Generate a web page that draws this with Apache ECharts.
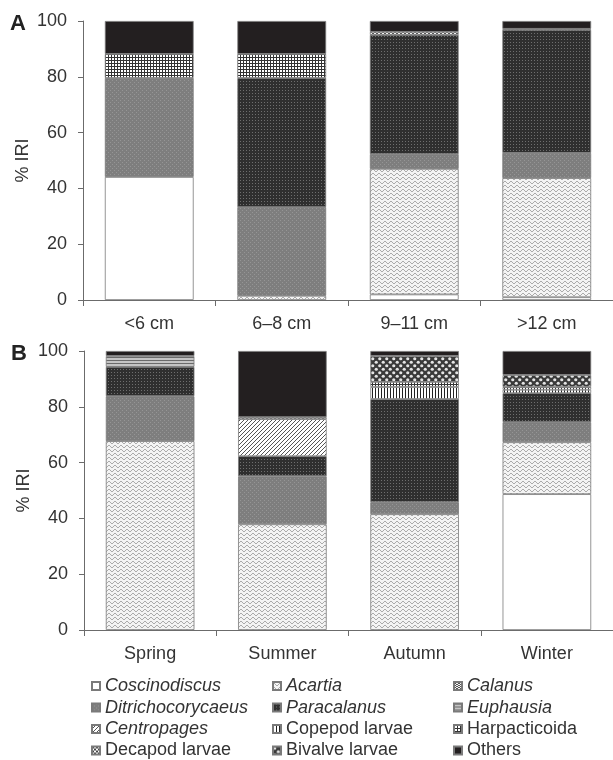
<!DOCTYPE html>
<html>
<head>
<meta charset="utf-8">
<script src="https://cdn.jsdelivr.net/npm/echarts@6/dist/echarts.min.js"></script>
<style>
html,body{margin:0;padding:0;background:#fff;}
#chart{width:613px;height:760px;}
</style>
</head>
<body>
<div id="chart"></div>
<script>
// ---------- DATA ----------
const sizeClasses = ['<6 cm', '6–8 cm', '9–11 cm', '>12 cm'];
const seasons = ['Spring', 'Summer', 'Autumn', 'Winter'];
const yTickValues = [0, 20, 40, 60, 80, 100];

// Panel A (by size class), % IRI of each prey taxon
const coscinodiscusA     = [44.1, 0,    2.0,  1.0];
const acartiaA           = [0,    1.5,  45.0, 42.7];
const ditrichocorycaeusA = [35.5, 31.8, 5.3,  9.0];
const paracalanusA       = [0,    46.3, 42.7, 44.1];
const euphausiaA         = [0,    0,    0,    0];
const centropagesA       = [0,    0,    0,    0];
const copepodLarvaeA     = [0,    0,    0,    0];
const harpacticoidaA     = [8.6,  8.6,  0,    0];
const decapodLarvaeA     = [0,    0,    0,    0];
const bivalveLarvaeA     = [0,    0,    0,    0];
const calanusA           = [0,    0,    1.1,  0.4];
const othersA            = [11.8, 11.8, 3.9,  2.8];

// Panel B (by season)
const coscinodiscusB     = [0,    0,    0,    48.7];
const acartiaB           = [67.7, 37.9, 41.5, 18.6];
const ditrichocorycaeusB = [16.1, 17.2, 4.3,  7.2];
const paracalanusB       = [10.5, 7.2,  37.0, 10.4];
const euphausiaB         = [3.9,  0,    0,    0];
const centropagesB       = [0,    13.3, 0,    0];
const copepodLarvaeB     = [0,    0,    4.3,  1.2];
const harpacticoidaB     = [0,    0,    1.8,  1.0];
const decapodLarvaeB     = [0,    0,    0,    0];
const bivalveLarvaeB     = [0,    0,    9.3,  4.3];
const calanusB           = [0,    0.7,  0,    0];
const othersB            = [1.8,  23.7, 1.8,  8.6];

// ---------- PATTERNS ----------
function tile(w, h, draw) {
  const c = document.createElement('canvas');
  c.width = w; c.height = h;
  const g = c.getContext('2d');
  draw(g, w, h);
  return { image: c, repeat: 'repeat' };
}
const fills = {
  'Coscinodiscus': '#ffffff',
  'Acartia': tile(6, 4, (g) => {
    g.fillStyle = '#f4f4f4'; g.fillRect(0, 0, 6, 4);
    g.fillStyle = '#ababab';
    g.fillRect(0, 1, 2, 1); g.fillRect(2, 2, 1, 1); g.fillRect(3, 3, 2, 1); g.fillRect(5, 2, 1, 1);
  }),
  'Calanus': tile(4, 2, (g) => {
    g.fillStyle = '#555'; g.fillRect(0, 0, 4, 2);
    g.fillStyle = '#f2f2f2'; g.fillRect(0, 0, 2, 1); g.fillRect(2, 1, 2, 1);
  }),
  'Ditrichocorycaeus': tile(4, 4, (g) => {
    g.fillStyle = '#7e7e7e'; g.fillRect(0, 0, 4, 4);
    g.fillStyle = '#959595'; g.fillRect(0, 0, 1, 1); g.fillRect(2, 2, 1, 1);
  }),
  'Paracalanus': tile(3, 3, (g) => {
    g.fillStyle = '#2f2f2f'; g.fillRect(0, 0, 3, 3);
    g.fillStyle = '#6e6e6e'; g.fillRect(0, 0, 1, 1);
  }),
  'Euphausia': tile(1, 3, (g) => {
    g.fillStyle = '#c4c4c4'; g.fillRect(0, 0, 1, 3);
    g.fillStyle = '#6a6a6a'; g.fillRect(0, 0, 1, 1);
  }),
  'Centropages': tile(4, 4, (g) => {
    g.fillStyle = '#ffffff'; g.fillRect(0, 0, 4, 4);
    g.fillStyle = '#555';
    g.fillRect(3, 0, 1, 1); g.fillRect(2, 1, 1, 1); g.fillRect(1, 2, 1, 1); g.fillRect(0, 3, 1, 1);
  }),
  'Copepod larvae': tile(3, 1, (g) => {
    g.fillStyle = '#ffffff'; g.fillRect(0, 0, 3, 1);
    g.fillStyle = '#222'; g.fillRect(0, 0, 1, 1);
  }),
  'Harpacticoida': tile(3, 3, (g) => {
    g.fillStyle = '#ffffff'; g.fillRect(0, 0, 3, 3);
    g.fillStyle = '#333'; g.fillRect(0, 0, 3, 1); g.fillRect(0, 0, 1, 3);
  }),
  'Decapod larvae': tile(4, 4, (g) => {
    g.fillStyle = '#ffffff'; g.fillRect(0, 0, 4, 4);
    g.fillStyle = '#444'; g.fillRect(0, 0, 2, 2); g.fillRect(2, 2, 2, 2);
  }),
  'Bivalve larvae': tile(7, 7, (g) => {
    g.fillStyle = '#3a3a3a'; g.fillRect(0, 0, 7, 7);
    g.fillStyle = '#e4e4e4';
    g.beginPath(); g.arc(1.75, 1.75, 1.6, 0, Math.PI * 2); g.fill();
    g.beginPath(); g.arc(5.25, 5.25, 1.6, 0, Math.PI * 2); g.fill();
  }),
  'Others': '#231f20'
};

// stacking order (bottom to top)
const stackOrder = [
  ['Coscinodiscus', coscinodiscusA, coscinodiscusB],
  ['Acartia', acartiaA, acartiaB],
  ['Ditrichocorycaeus', ditrichocorycaeusA, ditrichocorycaeusB],
  ['Paracalanus', paracalanusA, paracalanusB],
  ['Euphausia', euphausiaA, euphausiaB],
  ['Centropages', centropagesA, centropagesB],
  ['Copepod larvae', copepodLarvaeA, copepodLarvaeB],
  ['Harpacticoida', harpacticoidaA, harpacticoidaB],
  ['Decapod larvae', decapodLarvaeA, decapodLarvaeB],
  ['Bivalve larvae', bivalveLarvaeA, bivalveLarvaeB],
  ['Calanus', calanusA, calanusB],
  ['Others', othersA, othersB]
];

const italicNames = ['Coscinodiscus', 'Acartia', 'Calanus', 'Ditrichocorycaeus', 'Paracalanus', 'Euphausia', 'Centropages'];
const legendColumns = [
  ['Coscinodiscus', 'Ditrichocorycaeus', 'Centropages', 'Decapod larvae'],
  ['Acartia', 'Paracalanus', 'Copepod larvae', 'Bivalve larvae'],
  ['Calanus', 'Euphausia', 'Harpacticoida', 'Others']
];

// ---------- CHART ----------
const FONT = '"Liberation Sans", Arial, sans-serif';
const TXT = '#333';
const chart = echarts.init(document.getElementById('chart'), null, { renderer: 'canvas' });

const series = [];
stackOrder.forEach(([name, a, b]) => {
  [[a, 0, 'A'], [b, 1, 'B']].forEach(([vals, idx, st]) => {
    series.push({
      name: name,
      type: 'bar',
      stack: st,
      xAxisIndex: idx,
      yAxisIndex: idx,
      barWidth: '67%',
      data: vals.map(v => (v === 0 ? null : v)),
      itemStyle: { color: fills[name], borderColor: '#7a7a7a', borderWidth: 0.8 },
      emphasis: { disabled: true },
      animation: false
    });
  });
});

function yAxis(idx) {
  return {
    type: 'value', gridIndex: idx, min: yTickValues[0], max: yTickValues[yTickValues.length - 1],
    interval: yTickValues[1] - yTickValues[0],
    name: '% IRI', nameLocation: 'middle', nameGap: 51, nameRotate: 90,
    nameMoveOverlap: false,
    nameTextStyle: { fontSize: 18, color: TXT, fontFamily: FONT },
    axisLine: { show: true, lineStyle: { color: '#6b6b6b', width: 1 } },
    axisTick: { show: true, length: 5, lineStyle: { color: '#6b6b6b' } },
    splitLine: { show: false },
    axisLabel: { fontSize: 18, color: TXT, fontFamily: FONT, margin: 16 }
  };
}
function xAxis(idx, cats) {
  return {
    type: 'category', gridIndex: idx, data: cats,
    axisLine: { show: true, lineStyle: { color: '#6b6b6b', width: 1 } },
    axisTick: { show: true, length: 6, interval: 0, lineStyle: { color: '#6b6b6b' } },
    axisLabel: { fontSize: 18, color: TXT, fontFamily: FONT, margin: 15, interval: 0 }
  };
}

const legends = legendColumns.map((col, i) => ({
  orient: 'vertical',
  left: [91, 272, 453][i],
  top: 677,
  height: 200,
  padding: 0,
  itemWidth: 8, itemHeight: 8, itemGap: 3.5,
  icon: 'rect',
  selectedMode: false,
  textStyle: { fontSize: 18, color: TXT, fontFamily: FONT },
  data: col.map(n => ({ name: n, textStyle: { fontStyle: italicNames.includes(n) ? 'italic' : 'normal' } }))
}));

chart.setOption({
  animation: false,
  backgroundColor: '#ffffff',
  title: [
    { text: 'A', left: 10, top: 13, padding: 0, textStyle: { fontSize: 22, fontWeight: 'bold', color: '#222', fontFamily: FONT } },
    { text: 'B', left: 11, top: 343, padding: 0, textStyle: { fontSize: 22, fontWeight: 'bold', color: '#222', fontFamily: FONT } }
  ],
  grid: [
    { left: 83, top: 21, width: 531, height: 279 },
    { left: 84, top: 351, width: 531, height: 279 }
  ],
  xAxis: [xAxis(0, sizeClasses), xAxis(1, seasons)],
  yAxis: [yAxis(0), yAxis(1)],
  legend: legends,
  series: series
});
</script>
</body>
</html>
